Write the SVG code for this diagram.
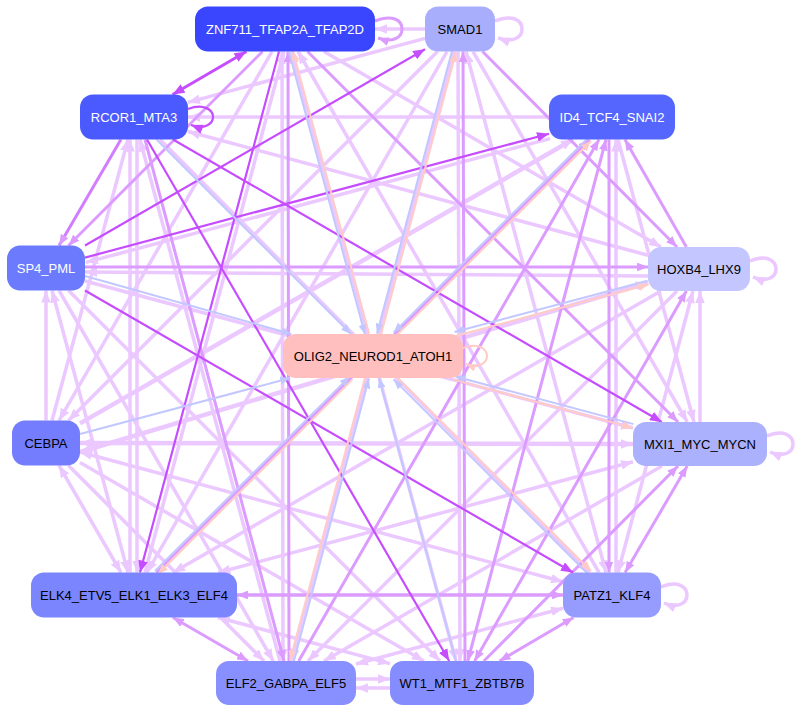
<svg xmlns="http://www.w3.org/2000/svg" width="798" height="713" viewBox="0 0 798 713">
<defs>
<marker id="aL" viewBox="0 0 10 8" refX="10" refY="4" markerWidth="12" markerHeight="9.6" markerUnits="userSpaceOnUse" orient="auto-start-reverse"><path class="ah" d="M0,0L10,4L0,8z" fill="#ebc8ff"/></marker>
<marker id="aM" viewBox="0 0 10 8" refX="10" refY="4" markerWidth="11" markerHeight="8.8" markerUnits="userSpaceOnUse" orient="auto-start-reverse"><path class="ah" d="M0,0L10,4L0,8z" fill="#dc9bff"/></marker>
<marker id="aD" viewBox="0 0 10 8" refX="10" refY="4" markerWidth="12" markerHeight="9.6" markerUnits="userSpaceOnUse" orient="auto-start-reverse"><path class="ah" d="M0,0L10,4L0,8z" fill="#c64cff"/></marker>
<marker id="aB" viewBox="0 0 10 8" refX="10" refY="4" markerWidth="10" markerHeight="8" markerUnits="userSpaceOnUse" orient="auto-start-reverse"><path class="ah" d="M0,0L10,4L0,8z" fill="#c2c8ff"/></marker>
<marker id="aP" viewBox="0 0 10 8" refX="10" refY="4" markerWidth="10" markerHeight="8" markerUnits="userSpaceOnUse" orient="auto-start-reverse"><path class="ah" d="M0,0L10,4L0,8z" fill="#ffcbc6"/></marker>
</defs>
<style>
#edges path{fill:none}
.l{stroke:#ebc8ff;stroke-width:3.5;marker-end:url(#aL)}
.l.s{marker-start:url(#aL)}
.m{stroke:#dc9bff;stroke-width:3;marker-end:url(#aM)}
.m.s{marker-start:url(#aM)}
.d{stroke:#c64cff;stroke-width:2.2;marker-end:url(#aD)}
.d.s{marker-start:url(#aD)}
.b{stroke:#c2c8ff;stroke-width:2;marker-end:url(#aB)}
.p{stroke:#ffcbc6;stroke-width:2;marker-end:url(#aP)}
.n rect{rx:13px}
.n text{font-family:"Liberation Sans",Arial,sans-serif;font-size:13px;text-anchor:middle}
.w{fill:#ffffff}
.k{fill:#000000}
</style>
<rect width="798" height="713" fill="#ffffff"/>
<g id="edges">
<path class="l" d="M425,29L375,29"/>
<path class="l" d="M272,51.5L59,420.5"/>
<path class="l" d="M425,38.4L188,102.4"/>
<path class="l" d="M437.5,51.5L68.5,420.5"/>
<path class="l" d="M447,51.5L147,572.5"/>
<path class="l" d="M454,51.5L291.8,661"/>
<path class="l" d="M458,51.5L460,661"/>
<path class="l s" d="M466,51.5L606,572.5"/>
<path class="l" d="M473,51.5L687.3,422"/>
<path class="l" d="M282,51.5L283,661"/>
<path class="l s" d="M291.1,51.5L456,661"/>
<path class="l" d="M599,572.5L298,51.5"/>
<path class="l" d="M324,51.5L661,247"/>
<path class="l" d="M145,572.5L284,51.5"/>
<path class="l" d="M549,117L188,117"/>
<path class="l" d="M648,255.3L188,131.5"/>
<path class="l" d="M52,420.5L128,139.5"/>
<path class="l" d="M130,572.5L130,139.5"/>
<path class="l" d="M137,139.5L137,572.5"/>
<path class="l" d="M280,661L140,139.5"/>
<path class="l" d="M160,139.5L589.5,572.5"/>
<path class="l" d="M550,138.6L86,262.4"/>
<path class="l" style="stroke-width:4.5" d="M80,423.4L573,139.5"/>
<path class="l" d="M616,572.5L616,139.5"/>
<path class="l" d="M618,139.5L694,422"/>
<path class="l" d="M648,276L85,272"/>
<path class="l" d="M46,420.5L46,290.5"/>
<path class="l s" d="M52,290.5L128,572.5"/>
<path class="l" d="M59,290.5L273.3,661"/>
<path class="l" d="M68.5,290.5L440,661"/>
<path class="l" d="M85,281L633,428"/>
<path class="l" d="M700,422L700,291"/>
<path class="l s" style="stroke-width:4.5" d="M648,282.6L80,452"/>
<path class="l" d="M660.9,291L173,572.5"/>
<path class="l" d="M677,291L308,661"/>
<path class="l s" d="M693,291L618,572.5"/>
<path class="l s" style="stroke-width:4.5" d="M80,443L633,444"/>
<path class="l s" d="M59,465.5L121,572.5"/>
<path class="l" d="M68.5,465.5L264,661"/>
<path class="l" d="M80,462.6L423.9,661"/>
<path class="l s" d="M80,452L563,581.8"/>
<path class="l s" d="M633,461.8L218.3,572.5"/>
<path class="l" d="M662,466L324,661"/>
<path class="l s" d="M218,617.5L390,663.6"/>
<path class="l s" d="M563,608.2L356,664"/>
<path class="l" d="M356,679L390,679"/>
<path class="l" d="M390,688L356,688"/>
<path class="l" d="M495,21C512,14 522,20 522,29C522,38 512,43 498,38"/>
<path class="l" d="M750,261C767,254 776,261 776,269C776,277 767,283 753,277"/>
<path class="l" d="M767,436C784,429 793,436 793,444C793,452 784,458 770,452"/>
<path class="l" d="M661,587C678,580 687,587 687,595C687,603 678,609 664,603"/>
<path class="m" d="M375,21C392,14 402,20 402,29C402,38 392,43 378,38"/>
<path class="m" d="M262.5,51.5L68.5,245.5"/>
<path class="m" d="M289,661L288,51.5"/>
<path class="m" d="M307.5,51.5L678,422"/>
<path class="m" d="M465,661L463,51.5"/>
<path class="m" d="M482.5,51.5L677,247"/>
<path class="m" d="M145,139.5L284,661"/>
<path class="m" d="M156.5,572.5L589.5,139.5"/>
<path class="m" d="M298.7,661L599,139.5"/>
<path class="m s" d="M606,139.5L467.8,661"/>
<path class="m" d="M609,139.5L609,572.5"/>
<path class="m" d="M686.4,247L624.9,139.5"/>
<path class="m" d="M85,267L648,267"/>
<path class="m s" d="M686.4,291L474.6,661"/>
<path class="m s" d="M687.2,466L625.1,572.5"/>
<path class="m" d="M483.9,661L678,466"/>
<path class="m s" style="stroke-width:3.5" d="M237,595L563,595"/>
<path class="m s" d="M172.9,617.5L248,661"/>
<path class="m s" d="M573.6,617.5L499.5,661"/>
<path class="m" style="stroke:#d27cff" d="M120.9,139.5L59.1,245.5"/>
<path class="d s" style="stroke-width:3" d="M246.4,51.5L172.6,94.5"/>
<path class="d" d="M188,109C204,103 213,110 213,117C213,124 204,130 191,125"/>
<path class="d" d="M85,245.5L425,49.2"/>
<path class="d" d="M279,51.5L140,572.5"/>
<path class="d" d="M173,139.5L661.9,422"/>
<path class="d" d="M147,139.5L449.2,661"/>
<path class="d" d="M85,257.6L549,133.8"/>
<path class="d" d="M85,290.5L573,572.5"/>
<path class="b" d="M289,52L365,334.5"/>
<path class="b" d="M452,51L377,333.5"/>
<path class="b" d="M156.5,139.5L351,334"/>
<path class="b" d="M588,138L393.6,332.6"/>
<path class="b" d="M85,276L291.3,334"/>
<path class="b" d="M647.5,280.7L454.5,332"/>
<path class="b" d="M80,434L290.3,378"/>
<path class="b" d="M633.5,424.1L455.3,376.5"/>
<path class="b" d="M155,571L349.6,376.6"/>
<path class="b" d="M588,574L393.6,379.4"/>
<path class="b" d="M293.8,661.5L368.9,378.5"/>
<path class="b" d="M456,661L379,378"/>
<path class="p" d="M369,333.5L293,51"/>
<path class="p" d="M381,334.5L456,52"/>
<path class="p" d="M396.4,335.4L591,141"/>
<path class="p" d="M455.5,336L648.5,284.5"/>
<path class="p" d="M454.3,379.9L632.5,427.9"/>
<path class="p" d="M352.4,379.4L158,574"/>
<path class="p" d="M396.4,376.6L591,571"/>
<path class="p" d="M365.1,377.5L290,660.5"/>
<path class="p" d="M463,348C478,342 487,349 487,356C487,363 478,369 466,364"/>
</g>
<g id="ZNF711_TFAP2A_TFAP2D" class="n"><rect x="195" y="6.5" width="180" height="45" fill="#3a46fe"/><text class="w" x="285" y="33.5">ZNF711_TFAP2A_TFAP2D</text></g>
<g id="SMAD1" class="n"><rect x="425" y="6.5" width="70" height="45" fill="#a9aefc"/><text class="k" x="460" y="33.5">SMAD1</text></g>
<g id="RCOR1_MTA3" class="n"><rect x="80" y="94.5" width="108" height="45" fill="#4b5afe"/><text class="w" x="134" y="121.5">RCOR1_MTA3</text></g>
<g id="ID4_TCF4_SNAI2" class="n"><rect x="549" y="94.5" width="126" height="45" fill="#5566ff"/><text class="w" x="612" y="121.5">ID4_TCF4_SNAI2</text></g>
<g id="SP4_PML" class="n"><rect x="7" y="245.5" width="78" height="45" fill="#6c7afe"/><text class="w" x="46" y="272.5">SP4_PML</text></g>
<g id="HOXB4_LHX9" class="n"><rect x="648" y="247" width="102" height="44" fill="#c3c6ff"/><text class="k" x="699" y="273.5">HOXB4_LHX9</text></g>
<g id="OLIG2_NEUROD1_ATOH1" class="n"><rect x="283" y="334" width="180" height="44" fill="#ffbfbf"/><text class="k" x="373" y="360.5">OLIG2_NEUROD1_ATOH1</text></g>
<g id="CEBPA" class="n"><rect x="12" y="420.5" width="68" height="45" fill="#737dfe"/><text class="k" x="46" y="447.5">CEBPA</text></g>
<g id="MXI1_MYC_MYCN" class="n"><rect x="633" y="422" width="134" height="44" fill="#abb1fd"/><text class="k" x="700" y="448.5">MXI1_MYC_MYCN</text></g>
<g id="ELK4_ETV5_ELK1_ELK3_ELF4" class="n"><rect x="31" y="572.5" width="206" height="45" fill="#7b85fe"/><text class="k" x="134" y="599.5">ELK4_ETV5_ELK1_ELK3_ELF4</text></g>
<g id="PATZ1_KLF4" class="n"><rect x="563" y="572.5" width="98" height="45" fill="#959cfd"/><text class="k" x="612" y="599.5">PATZ1_KLF4</text></g>
<g id="ELF2_GABPA_ELF5" class="n"><rect x="216" y="661" width="140" height="44" fill="#8790fe"/><text class="k" x="286" y="687.5">ELF2_GABPA_ELF5</text></g>
<g id="WT1_MTF1_ZBTB7B" class="n"><rect x="390" y="661" width="144" height="44" fill="#858dfe"/><text class="k" x="462" y="687.5">WT1_MTF1_ZBTB7B</text></g>
</svg>
